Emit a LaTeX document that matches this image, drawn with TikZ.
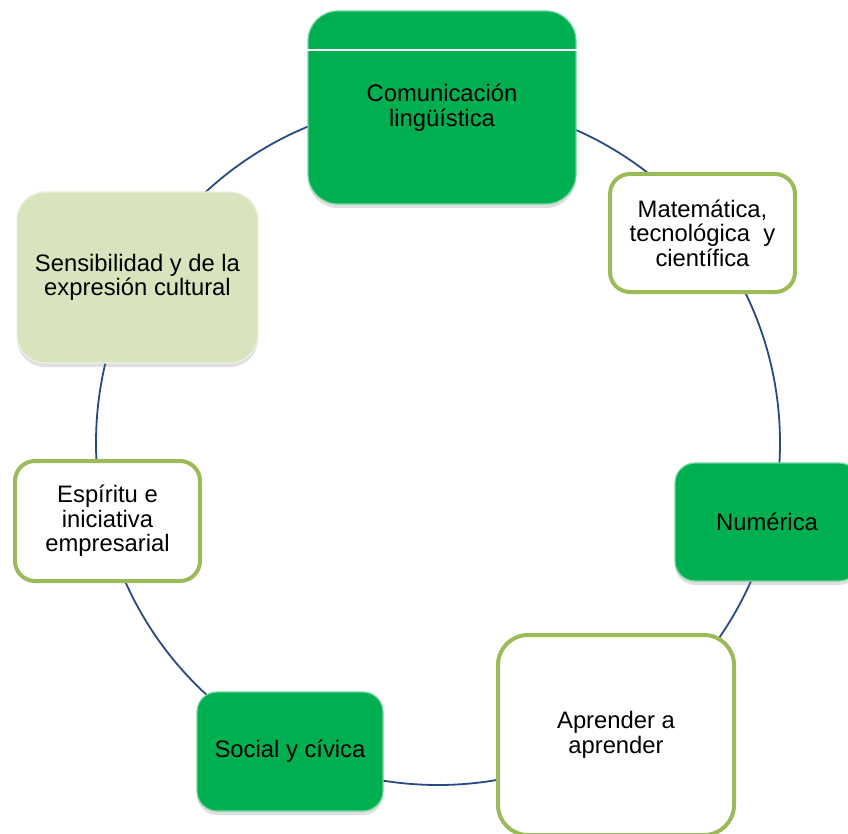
\documentclass[tikz,border=0pt]{standalone}
\usepackage{fontspec}
\setmainfont{Liberation Sans}
\usepackage{xcolor}
\usetikzlibrary{
shadows,
backgrounds % ring behind the boxes
}
\definecolor{verde}{RGB}{0,176,80}
\definecolor{oliva}{RGB}{155,187,89}
\definecolor{palido}{RGB}{215,228,189}
\definecolor{azul}{RGB}{40,74,132}

\begin{document}
\begin{tikzpicture}[
    x=1pt, y=-1pt,
    every node/.style={rounded corners=20pt, align=center, inner sep=0pt,
      font=\fontsize{23.8}{24.5}\selectfont},
    darkbox/.style={fill=verde, draw=verde!55!white, line width=1.2pt,
      drop shadow={shadow xshift=0pt, shadow yshift=-4pt, opacity=0.25}},
    palebox/.style={fill=palido, draw=palido!50!white, line width=1.2pt,
      drop shadow={shadow xshift=0pt, shadow yshift=-4pt, opacity=0.25}},
    linebox/.style={fill=white, draw=oliva, line width=4pt},
    ring/.style={draw=azul, line width=1.8pt}]
  \useasboundingbox (0,0) rectangle (848,834);
  \coordinate (centro) at (438,443);
  \node[darkbox, minimum width=268pt, minimum height=193pt, rounded corners=30pt]
      (comun) at (442,107.5) {Comunicación\\lingüística};
  \node[linebox, minimum width=185pt, minimum height=118pt]
      (mate) at (702.5,233) {Matemática,\\tecnológica \ y\\científica};
  \node[darkbox, minimum width=184pt, minimum height=118pt]
      (numer) at (767,522) {Numérica};
  \node[linebox, minimum width=236pt, minimum height=200pt, rounded corners=30pt]
      (aprender) at (616,735) {Aprender a\\aprender};
  \node[darkbox, minimum width=186pt, minimum height=119pt]
      (social) at (290,751.5) {Social y cívica};
  \node[linebox, minimum width=185pt, minimum height=120pt]
      (espiritu) at (107.5,521) {Espíritu e\\iniciativa\\empresarial};
  \node[palebox, minimum width=241pt, minimum height=171pt, rounded corners=28pt]
      (sensib) at (137.5,277.5) {Sensibilidad y de la\\expresión cultural};
  \draw[white, line width=1.5pt] (comun.west |- 0,50) -- (comun.east |- 0,50);
  \begin{scope}[on background layer]
    \draw[ring] (centro) circle[radius=342pt];
  \end{scope}
\end{tikzpicture}
\end{document}
